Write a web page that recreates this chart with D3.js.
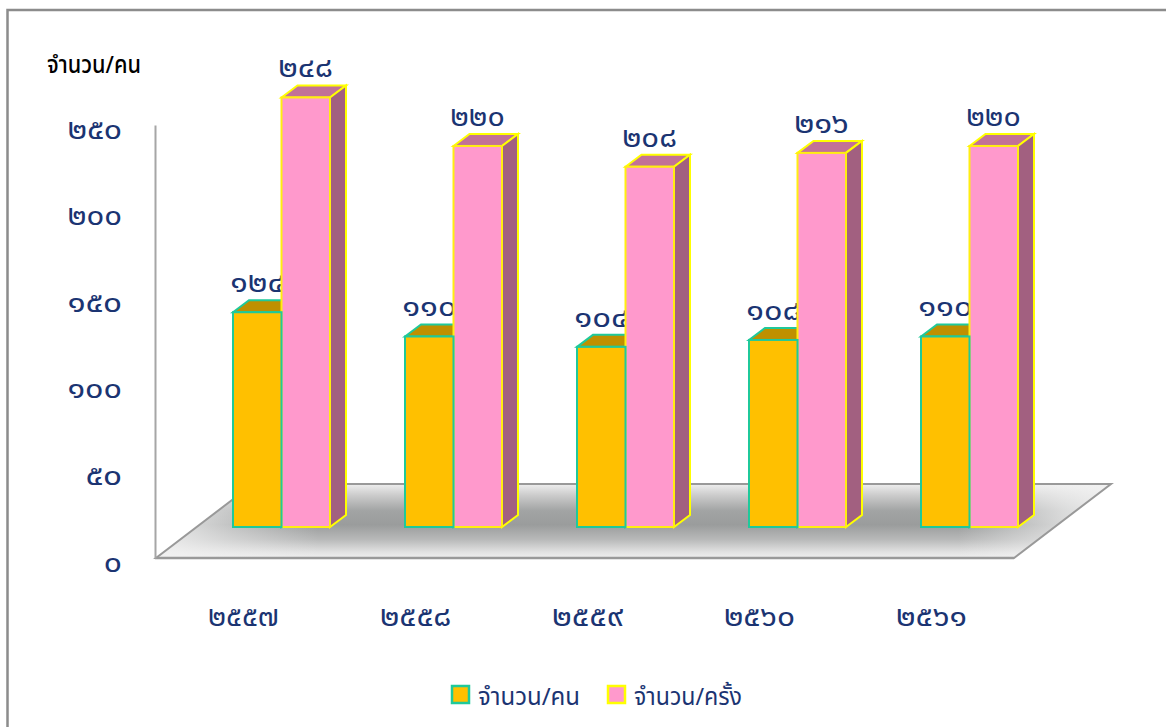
<!DOCTYPE html>
<html><head><meta charset="utf-8">
<script src="https://cdnjs.cloudflare.com/ajax/libs/d3/7.8.5/d3.min.js"></script>
<style>html,body{margin:0;padding:0;background:#fff;overflow:hidden}svg{display:block}text{font-family:"Noto Sans","Noto Sans Thai","DejaVu Sans",sans-serif}</style>
</head><body><div id="c"></div>
<script>
const years=["๒๕๕๗","๒๕๕๘","๒๕๕๙","๒๕๖๐","๒๕๖๑"];
const persons=[124,110,104,108,110];
const times=[248,220,208,216,220];
const personLabels=["๑๒๔","๑๑๐","๑๐๔","๑๐๘","๑๑๐"];
const timeLabels=["๒๔๘","๒๒๐","๒๐๘","๒๑๖","๒๒๐"];
const tickValues=[0,50,100,150,200,250];
const tickLabels=["๐","๕๐","๑๐๐","๑๕๐","๒๐๐","๒๕๐"];
const seriesNames=["จำนวน/คน","จำนวน/ครั้ง"];
const W=1166,H=727,navy="#1b3472";
const digitW=18.2, digitSize=29;
const svg=d3.select("#c").append("svg").attr("width",W).attr("height",H);
const defs=svg.append("defs");
const g1=defs.append("linearGradient").attr("id","fv").attr("x1",0).attr("y1",0).attr("x2",0).attr("y2",1);
[[0,"#eeeeee"],[.16,"#cacaca"],[.36,"#a2a4a4"],[.55,"#9a9c9c"],[.75,"#b8b9b9"],[.92,"#e2e2e2"],[1,"#efefef"]].forEach(d=>g1.append("stop").attr("offset",d[0]).attr("stop-color",d[1]));
const g2=defs.append("linearGradient").attr("id","fh").attr("x1",0).attr("y1",0).attr("x2",1).attr("y2",0);
[[0,.9],[.08,.45],[.17,0],[.84,0],[.95,.7],[1,.95]].forEach(d=>g2.append("stop").attr("offset",d[0]).attr("stop-color","#f2f2f2").attr("stop-opacity",d[1]));
svg.append("rect").attr("x",7.5).attr("y",10).attr("width",1170).attr("height",730).attr("fill","#fff").attr("stroke","#8c8c8c").attr("stroke-width",2.5);
const x=d3.scaleBand().domain(years).range([195.5,1055.5]);
const inner=d3.scaleBand().domain([0,1]).range([-48.5,48.5]);
const base=527,axisBase=558;
const y=d3.scaleLinear().domain([0,250]).range([base,base-433]);
const dx=16,dy=-12;
const floorPts=[[156,axisBase],[1014,axisBase],[1111,484],[253,484]];
const line=d3.line();
svg.append("path").attr("d",line(floorPts)+"Z").attr("fill","url(#fv)");
svg.append("path").attr("d",line(floorPts)+"Z").attr("fill","url(#fh)").attr("stroke","#999").attr("stroke-width",2);
svg.append("line").attr("x1",155).attr("x2",1014).attr("y1",axisBase).attr("y2",axisBase).attr("stroke","#999").attr("stroke-width",2.5);
const axis=d3.axisLeft(d3.scaleLinear().domain([0,250]).range([axisBase,axisBase-433])).tickValues(tickValues).tickSize(0).tickFormat((d,i)=>tickLabels[i]);
const ag=svg.append("g").attr("transform","translate(155,0)").call(axis);
ag.select(".domain").attr("stroke","#a6a6a6").attr("stroke-width",2);
ag.selectAll("text").attr("x",-33).attr("dy",13).attr("text-anchor","end").attr("font-size",digitSize).attr("fill",navy)
  .attr("textLength",function(){return this.textContent.length*digitW}).attr("lengthAdjust","spacingAndGlyphs");
function digits(sel,cx,yy,s,n){
  return sel.append("text").attr("x",cx).attr("y",yy).attr("text-anchor","middle").attr("font-size",digitSize).attr("fill",navy)
    .attr("textLength",s.length*(n||digitW)).attr("lengthAdjust","spacingAndGlyphs").text(s);
}
function topSide(gp,l,r,v,top,side,stroke){
  const t=y(v);
  gp.append("path").attr("d",line([[l,t],[l+dx,t+dy],[r+dx,t+dy],[r,t]])+"Z").attr("fill",top).attr("stroke",stroke).attr("stroke-width",2);
  gp.append("path").attr("d",line([[r,t],[r+dx,t+dy],[r+dx,base+dy],[r,base]])+"Z").attr("fill",side).attr("stroke",stroke).attr("stroke-width",2);
}
function front(gp,l,r,v,fill,stroke){
  gp.append("rect").attr("x",l).attr("y",y(v)).attr("width",r-l).attr("height",base-y(v)).attr("fill",fill).attr("stroke",stroke).attr("stroke-width",2);
}
years.forEach((yr,i)=>{
  const c=x(yr)+x.bandwidth()/2, g=svg.append("g");
  const l0=c+inner(0), r0=l0+inner.bandwidth(), l1=c+inner(1), r1=l1+inner.bandwidth();
  topSide(g,l0,r0,persons[i],"#bf9000","#bf9000","#1fc99a");
  digits(g,c-24,y(persons[i])-20,personLabels[i]);
  topSide(g,l1,r1,times[i],"#c27197","#a26080","#ffff00");
  front(g,l1,r1,times[i],"#ff99cc","#ffee10");
  front(g,l0,r0,persons[i],"#ffc000","#1fc99a");
  digits(g,c+24,y(times[i])-20,timeLabels[i]);
  digits(svg,c-38,626,yr,17.8);
});
svg.append("text").attr("x",47).attr("y",73).attr("font-size",24).attr("font-weight",500).attr("fill","#000")
  .attr("textLength",94).attr("lengthAdjust","spacingAndGlyphs").text("จำนวน/คน");
const lg=[[451,478,102,"#ffc000","#1fc99a"],[607,634,108,"#ff99cc","#ffff00"]];
lg.forEach((d,i)=>{
  svg.append("rect").attr("x",d[0]+1).attr("y",686).attr("width",17).attr("height",17).attr("fill",d[3]).attr("stroke",d[4]).attr("stroke-width",2.5);
  svg.append("text").attr("x",d[1]).attr("y",705).attr("font-size",24).attr("fill",navy)
    .attr("textLength",d[2]).attr("lengthAdjust","spacingAndGlyphs").text(seriesNames[i]);
});
</script></body></html>
